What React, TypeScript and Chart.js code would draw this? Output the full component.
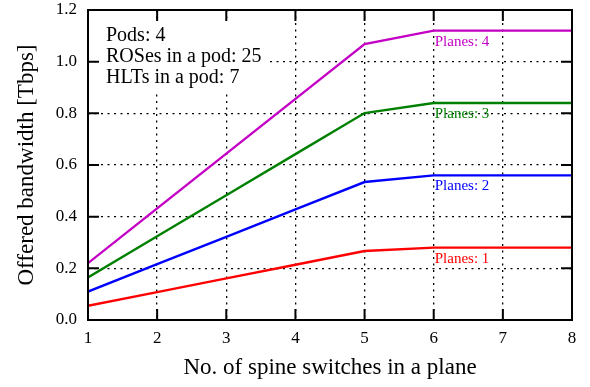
import React, { useEffect, useRef } from "react";
import { Chart, registerables } from "chart.js";

Chart.register(...registerables);

const spineSwitches = [1, 2, 3, 4, 5, 6, 7, 8];
const planes1 = [0.055, 0.108, 0.161, 0.214, 0.267, 0.28, 0.28, 0.28];
const planes2 = [0.11, 0.216, 0.322, 0.428, 0.534, 0.56, 0.56, 0.56];
const planes3 = [0.165, 0.324, 0.483, 0.642, 0.801, 0.84, 0.84, 0.84];
const planes4 = [0.22, 0.432, 0.644, 0.856, 1.068, 1.12, 1.12, 1.12];
const seriesLabels = ["Planes: 1", "Planes: 2", "Planes: 3", "Planes: 4"];
const seriesColors = ["#ff0000", "#0000ff", "#008000", "#c400c4"];
const infoLines = ["Pods: 4", "ROSes in a pod: 25", "HLTs in a pod: 7"];
const xTitle = "No. of spine switches in a plane";
const yTitle = "Offered bandwidth [Tbps]";
const labelAtX = 6;

const SERIF = "'Liberation Serif', 'DejaVu Serif', serif";

export default function App() {
  const ref = useRef<HTMLCanvasElement | null>(null);

  useEffect(() => {
    document.body.style.margin = "0";
    const canvas = ref.current;
    if (!canvas) return;
    Chart.defaults.font.family = SERIF;
    Chart.defaults.font.size = 17;
    const all = [planes1, planes2, planes3, planes4];

    const decor = {
      id: "decor",
      afterLayout(chart: any) {
        // force plot box to match reference
        const ca = chart.chartArea;
        ca.top = 10;
        chart.scales.y.top = 10;
        chart.scales.y.height = ca.bottom - 10;
        chart.scales.y.configure();
        chart.scales.y.paddingTop = 0;
      },
      beforeDatasetsDraw(chart: any) {
        const ctx = chart.ctx;
        ctx.save();
        ctx.fillStyle = "#ffffff";
        ctx.fillRect(100, 22, 170, 68);
        ctx.restore();
      },
      afterDraw(chart: any) {
        const ctx = chart.ctx;
        const { left, right, top, bottom } = chart.chartArea;
        const xs = chart.scales.x;
        const ys = chart.scales.y;
        ctx.save();
        ctx.strokeStyle = "#000";
        ctx.lineWidth = 2;
        ctx.setLineDash([]);
        ctx.strokeRect(left, top, right - left, bottom - top);
        const tl = 11;
        ctx.beginPath();
        xs.ticks.forEach((t: any) => {
          const px = xs.getPixelForValue(t.value);
          ctx.moveTo(px, bottom);
          ctx.lineTo(px, bottom - tl);
          ctx.moveTo(px, top);
          ctx.lineTo(px, top + tl);
        });
        ys.ticks.forEach((t: any) => {
          const py = ys.getPixelForValue(t.value);
          ctx.moveTo(left, py);
          ctx.lineTo(left + tl, py);
          ctx.moveTo(right, py);
          ctx.lineTo(right - tl, py);
        });
        ctx.stroke();

        ctx.fillStyle = "#000";
        ctx.font = `20px ${SERIF}`;
        ctx.textAlign = "left";
        ctx.textBaseline = "alphabetic";
        infoLines.forEach((s, i) => ctx.fillText(s, 106, 41 + i * 21));

        ctx.font = `15px ${SERIF}`;
        ctx.textBaseline = "middle";
        const idx = spineSwitches.indexOf(labelAtX);
        all.forEach((arr, i) => {
          ctx.fillStyle = seriesColors[i];
          const px = xs.getPixelForValue(labelAtX);
          const py = ys.getPixelForValue(arr[idx]);
          ctx.fillText(seriesLabels[i], px + 1, py + 11);
        });

        ctx.fillStyle = "#000";
        ctx.font = `23px ${SERIF}`;
        ctx.textAlign = "center";
        ctx.textBaseline = "alphabetic";
        ctx.fillText(xTitle, (left + right) / 2, 374);
        ctx.translate(32.5, (top + bottom) / 2);
        ctx.rotate(-Math.PI / 2);
        ctx.fillText(yTitle, 0, 0);
        ctx.restore();
      },
    };

    const grid = {
      color: "#000",
      lineWidth: 1.3,
      drawTicks: false,
    };
    const border = { display: false, dash: [2, 4.5] };

    const chart = new Chart(canvas, {
      type: "line",
      data: {
        datasets: all.map((arr, i) => ({
          label: seriesLabels[i],
          data: spineSwitches.map((x, j) => ({ x, y: arr[j] })),
          borderColor: seriesColors[i],
          backgroundColor: seriesColors[i],
          borderWidth: 2.4,
          pointRadius: 0,
          tension: 0,
          fill: false,
        })),
      },
      options: {
        responsive: false,
        animation: false,
        layout: { padding: { left: 0, right: 18, top: 0, bottom: 0 } },
        plugins: {
          legend: { display: false },
          title: { display: false },
          tooltip: { enabled: false },
        },
        scales: {
          x: {
            type: "linear",
            min: 1,
            max: 8,
            border: border as any,
            grid: grid as any,
            ticks: {
              stepSize: 1,
              padding: 8,
              color: "#000",
              font: { family: SERIF, size: 17 },
              maxRotation: 0,
            },
            afterFit(scale: any) {
              scale.height = 67;
            },
          },
          y: {
            min: 0,
            max: 1.2,
            border: border as any,
            grid: grid as any,
            ticks: {
              stepSize: 0.2,
              padding: 11,
              color: "#000",
              font: { family: SERIF, size: 17 },
              callback: (v: any) => Number(v).toFixed(1),
            },
            afterFit(scale: any) {
              scale.width = 88;
            },
          },
        },
      },
      plugins: [decor],
    });
    return () => chart.destroy();
  }, []);

  return (
    <div style={{ position: "absolute", left: 0, top: 0, width: 590, height: 387 }}>
      <canvas ref={ref} width={590} height={387} />
    </div>
  );
}
